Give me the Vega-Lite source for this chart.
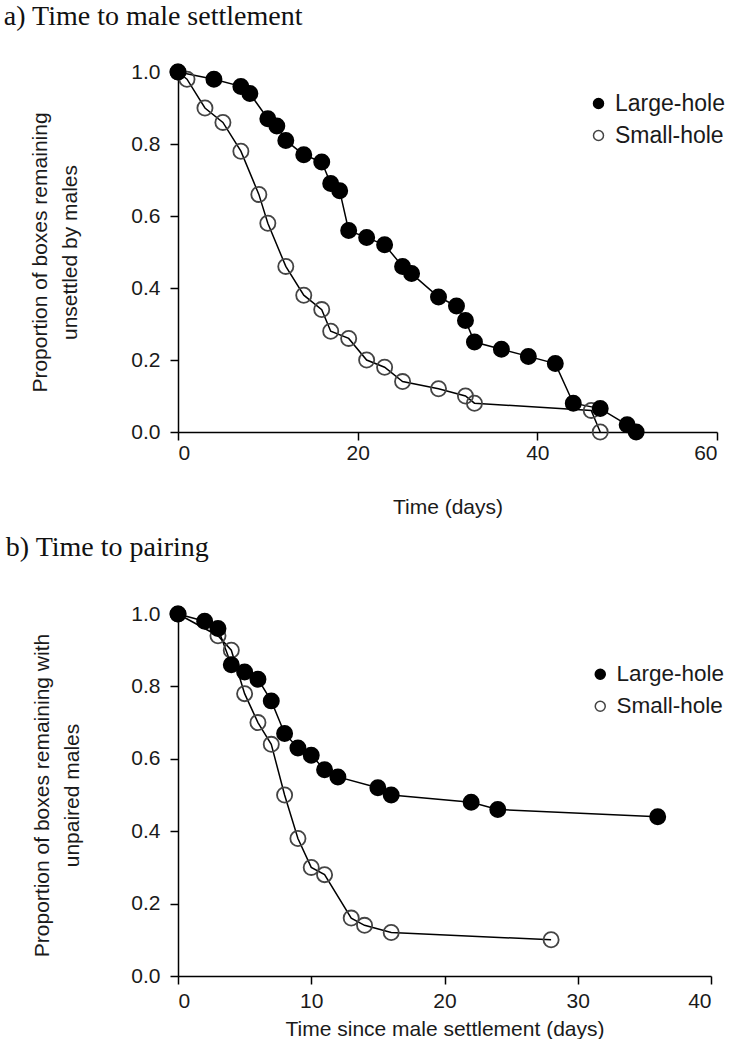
{
  "$schema": "https://vega.github.io/schema/vega-lite/v6.json",
  "background": "white",
  "padding": {"left": 3, "top": 2, "right": 0, "bottom": 0},
  "spacing": 16,
  "config": {
    "view": {"stroke": null},
    "axis": {
      "grid": false,
      "domainColor": "black",
      "domainWidth": 1.5,
      "tickColor": "black",
      "tickWidth": 1.5,
      "tickSize": 8,
      "labelFont": "Liberation Sans",
      "labelFontSize": 21,
      "labelColor": "#1a1a1a",
      "labelPadding": 10,
      "titleFont": "Liberation Sans",
      "titleFontSize": 21,
      "titleFontWeight": "normal",
      "titleColor": "#1a1a1a"
    },
    "legend": {
      "labelFont": "Liberation Sans",
      "labelFontSize": 23,
      "labelColor": "#1a1a1a",
      "symbolSize": 100,
      "symbolStrokeWidth": 1.5,
      "padding": 0,
      "labelOffset": 5,
      "rowPadding": 8
    },
    "title": {"font": "Liberation Serif", "fontSize": 28, "fontWeight": "normal", "color": "#111", "anchor": "start"}
  },
  "resolve": {"scale": {"x": "independent", "y": "independent", "fill": "independent", "stroke": "independent"}, "legend": {"fill": "independent", "stroke": "independent"}},
  "vconcat": [
    {
      "title": {"text": "a) Time to male settlement", "frame": "bounds", "anchor": "start", "dx": -26, "offset": 30},
      "width": 539,
      "height": 360,
      "data": {"values": [
        {"series": "Small-hole", "t": 0, "p": 1.0},
        {"series": "Small-hole", "t": 1, "p": 0.98},
        {"series": "Small-hole", "t": 3, "p": 0.90},
        {"series": "Small-hole", "t": 5, "p": 0.86},
        {"series": "Small-hole", "t": 7, "p": 0.78},
        {"series": "Small-hole", "t": 9, "p": 0.66},
        {"series": "Small-hole", "t": 10, "p": 0.58},
        {"series": "Small-hole", "t": 12, "p": 0.46},
        {"series": "Small-hole", "t": 14, "p": 0.38},
        {"series": "Small-hole", "t": 16, "p": 0.34},
        {"series": "Small-hole", "t": 17, "p": 0.28},
        {"series": "Small-hole", "t": 19, "p": 0.26},
        {"series": "Small-hole", "t": 21, "p": 0.20},
        {"series": "Small-hole", "t": 23, "p": 0.18},
        {"series": "Small-hole", "t": 25, "p": 0.14},
        {"series": "Small-hole", "t": 29, "p": 0.12},
        {"series": "Small-hole", "t": 32, "p": 0.10},
        {"series": "Small-hole", "t": 33, "p": 0.08},
        {"series": "Small-hole", "t": 46, "p": 0.06},
        {"series": "Small-hole", "t": 47, "p": 0.0},
        {"series": "Large-hole", "t": 0, "p": 1.0},
        {"series": "Large-hole", "t": 4, "p": 0.98},
        {"series": "Large-hole", "t": 7, "p": 0.96},
        {"series": "Large-hole", "t": 8, "p": 0.94},
        {"series": "Large-hole", "t": 10, "p": 0.87},
        {"series": "Large-hole", "t": 11, "p": 0.85},
        {"series": "Large-hole", "t": 12, "p": 0.81},
        {"series": "Large-hole", "t": 14, "p": 0.77},
        {"series": "Large-hole", "t": 16, "p": 0.75},
        {"series": "Large-hole", "t": 17, "p": 0.69},
        {"series": "Large-hole", "t": 18, "p": 0.67},
        {"series": "Large-hole", "t": 19, "p": 0.56},
        {"series": "Large-hole", "t": 21, "p": 0.54},
        {"series": "Large-hole", "t": 23, "p": 0.52},
        {"series": "Large-hole", "t": 25, "p": 0.46},
        {"series": "Large-hole", "t": 26, "p": 0.44},
        {"series": "Large-hole", "t": 29, "p": 0.375},
        {"series": "Large-hole", "t": 31, "p": 0.35},
        {"series": "Large-hole", "t": 32, "p": 0.31},
        {"series": "Large-hole", "t": 33, "p": 0.25},
        {"series": "Large-hole", "t": 36, "p": 0.23},
        {"series": "Large-hole", "t": 39, "p": 0.21},
        {"series": "Large-hole", "t": 42, "p": 0.19},
        {"series": "Large-hole", "t": 44, "p": 0.08},
        {"series": "Large-hole", "t": 47, "p": 0.065},
        {"series": "Large-hole", "t": 50, "p": 0.02},
        {"series": "Large-hole", "t": 51, "p": 0.0}
      ]},
      "encoding": {
        "x": {"field": "t", "type": "quantitative", "scale": {"domain": [0, 60], "nice": false}, "axis": {"values": [0, 20, 40, 60], "title": "Time (days)", "labelPadding": 2, "titlePadding": 33}},
        "y": {"field": "p", "type": "quantitative", "scale": {"domain": [0, 1], "nice": false}, "axis": {"values": [0, 0.2, 0.4, 0.6, 0.8, 1.0], "format": ".1f", "title": ["Proportion of boxes remaining", "unsettled by males"], "titleLineHeight": 30, "titlePadding": 50}}
      },
      "layer": [
        {
          "mark": {"type": "line", "color": "black", "strokeWidth": 1.5},
          "encoding": {"detail": {"field": "series"}, "order": {"field": "t"}}
        },
        {
          "mark": {"type": "point", "shape": "circle", "size": 230, "strokeWidth": 1.8, "opacity": 1},
          "encoding": {
            "fill": {"field": "series", "type": "nominal", "scale": {"domain": ["Large-hole", "Small-hole"], "range": ["black", "transparent"]}, "legend": {"title": null, "orient": "none", "legendX": 409, "legendY": 20}},
            "stroke": {"field": "series", "type": "nominal", "scale": {"domain": ["Large-hole", "Small-hole"], "range": ["black", "#444444"]}, "legend": {"title": null, "orient": "none", "legendX": 409, "legendY": 20}}
          }
        }
      ]
    },
    {
      "title": {"text": "b) Time to pairing", "frame": "bounds", "anchor": "start", "dx": -26, "offset": 41},
      "width": 533,
      "height": 362,
      "data": {"values": [
        {"series": "Small-hole", "t": 0, "p": 1.0},
        {"series": "Small-hole", "t": 3, "p": 0.94},
        {"series": "Small-hole", "t": 4, "p": 0.90},
        {"series": "Small-hole", "t": 5, "p": 0.78},
        {"series": "Small-hole", "t": 6, "p": 0.70},
        {"series": "Small-hole", "t": 7, "p": 0.64},
        {"series": "Small-hole", "t": 8, "p": 0.50},
        {"series": "Small-hole", "t": 9, "p": 0.38},
        {"series": "Small-hole", "t": 10, "p": 0.30},
        {"series": "Small-hole", "t": 11, "p": 0.28},
        {"series": "Small-hole", "t": 13, "p": 0.16},
        {"series": "Small-hole", "t": 14, "p": 0.14},
        {"series": "Small-hole", "t": 16, "p": 0.12},
        {"series": "Small-hole", "t": 28, "p": 0.10},
        {"series": "Large-hole", "t": 0, "p": 1.0},
        {"series": "Large-hole", "t": 2, "p": 0.98},
        {"series": "Large-hole", "t": 3, "p": 0.96},
        {"series": "Large-hole", "t": 4, "p": 0.86},
        {"series": "Large-hole", "t": 5, "p": 0.84},
        {"series": "Large-hole", "t": 6, "p": 0.82},
        {"series": "Large-hole", "t": 7, "p": 0.76},
        {"series": "Large-hole", "t": 8, "p": 0.67},
        {"series": "Large-hole", "t": 9, "p": 0.63},
        {"series": "Large-hole", "t": 10, "p": 0.61},
        {"series": "Large-hole", "t": 11, "p": 0.57},
        {"series": "Large-hole", "t": 12, "p": 0.55},
        {"series": "Large-hole", "t": 15, "p": 0.52},
        {"series": "Large-hole", "t": 16, "p": 0.50},
        {"series": "Large-hole", "t": 22, "p": 0.48},
        {"series": "Large-hole", "t": 24, "p": 0.46},
        {"series": "Large-hole", "t": 36, "p": 0.44}
      ]},
      "encoding": {
        "x": {"field": "t", "type": "quantitative", "scale": {"domain": [0, 40], "nice": false}, "axis": {"values": [0, 10, 20, 30, 40], "title": "Time since male settlement (days)", "labelPadding": 6, "titlePadding": 7}},
        "y": {"field": "p", "type": "quantitative", "scale": {"domain": [0, 1], "nice": false}, "axis": {"values": [0, 0.2, 0.4, 0.6, 0.8, 1.0], "format": ".1f", "title": ["Proportion of boxes remaining with", "unpaired males"], "titleLineHeight": 30, "titlePadding": 48}}
      },
      "layer": [
        {
          "mark": {"type": "line", "color": "black", "strokeWidth": 1.5},
          "encoding": {"detail": {"field": "series"}, "order": {"field": "t"}}
        },
        {
          "mark": {"type": "point", "shape": "circle", "size": 230, "strokeWidth": 1.8, "opacity": 1},
          "encoding": {
            "fill": {"field": "series", "type": "nominal", "scale": {"domain": ["Large-hole", "Small-hole"], "range": ["black", "transparent"]}, "legend": {"title": null, "orient": "none", "legendX": 411, "legendY": 49, "rowPadding": 9, "labelFontSize": 22.5}},
            "stroke": {"field": "series", "type": "nominal", "scale": {"domain": ["Large-hole", "Small-hole"], "range": ["black", "#444444"]}, "legend": {"title": null, "orient": "none", "legendX": 411, "legendY": 49, "rowPadding": 9, "labelFontSize": 22.5}}
          }
        }
      ]
    }
  ]
}
